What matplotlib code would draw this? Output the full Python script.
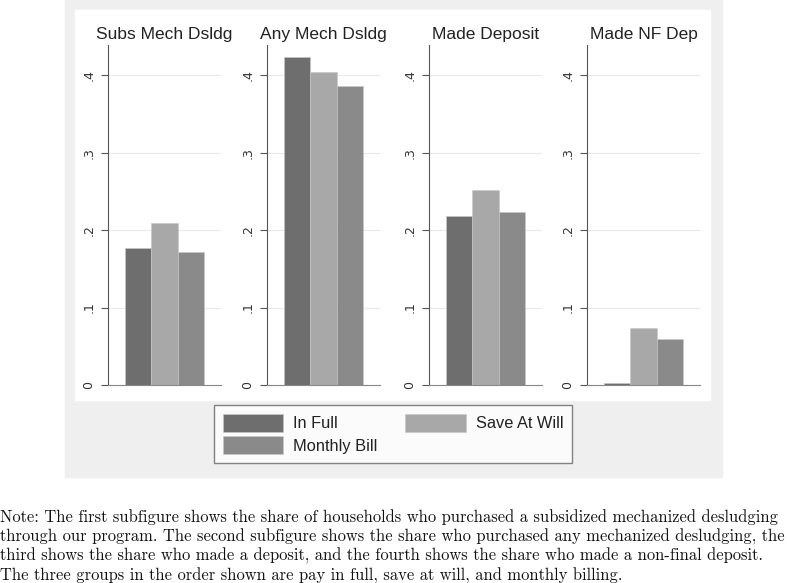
import matplotlib.pyplot as plt
from matplotlib.patches import Rectangle

W, H = 787, 583

panels = ['Subs Mech Dsldg', 'Any Mech Dsldg', 'Made Deposit', 'Made NF Dep']
groups = ['In Full', 'Save At Will', 'Monthly Bill']
in_full = [0.177, 0.423, 0.218, 0.003]
save_at_will = [0.209, 0.404, 0.252, 0.074]
monthly_bill = [0.172, 0.386, 0.223, 0.059]
yticks = [0, 0.1, 0.2, 0.3, 0.4]
ytick_labels = ['0', '.1', '.2', '.3', '.4']

colors = ['#6e6e6e', '#a8a8a8', '#8a8a8a']
note = ("Note: The first subfigure shows the share of households who purchased a subsidized mechanized desludging\n"
        "through our program. The second subfigure shows the share who purchased any mechanized desludging, the\n"
        "third shows the share who made a deposit, and the fourth shows the share who made a non-final deposit.\n"
        "The three groups in the order shown are pay in full, save at will, and monthly billing.")


def fx(px):
    return px / W


def fy(py):
    return 1 - py / H


fig = plt.figure(figsize=(W / 100, H / 100), dpi=100)
fig.patches.append(Rectangle((fx(65), fy(477)), fx(722) - fx(65), fy(0) - fy(477),
                             transform=fig.transFigure, color='#efefef', zorder=-3))
fig.patches.append(Rectangle((fx(75), fy(400)), fx(710) - fx(75), fy(10) - fy(400),
                             transform=fig.transFigure, color='white', zorder=-2))

lefts = [108, 267, 429, 587]
series = [in_full, save_at_will, monthly_bill]
top_px, bot_px = 45, 385
handles = []
for i, name in enumerate(panels):
    ax = fig.add_axes([fx(lefts[i]), fy(bot_px), 113 / W, (bot_px - top_px) / H])
    ax.set_facecolor('none')
    for j, vals in enumerate(series):
        b = ax.bar(j, vals[i], width=1, color=colors[j], edgecolor='#c8c8c8', linewidth=0.4)
        if i == 0:
            handles.append(b)
    ax.set_xlim(-1.16, 3.16)
    ax.set_ylim(0, 0.439)
    ax.set_yticks(yticks)
    ax.set_yticklabels(ytick_labels, rotation=90, va='center', fontsize=9, color='#333333')
    ax.set_xticks([])
    ax.yaxis.grid(True, color='#eaeaea', linewidth=0.8)
    ax.set_axisbelow(True)
    ax.tick_params(axis='y', length=5, width=0.8, color='#555555', pad=4)
    for s in ['top', 'right']:
        ax.spines[s].set_visible(False)
    ax.spines['left'].set_color('#555555')
    ax.spines['bottom'].set_color('#888888')
    ax.set_title(name, fontsize=12.5, family='Liberation Sans', color='#222222', pad=4)

# legend fills column-wise: put Monthly Bill under In Full
order = [0, 2, 1]
leg = fig.legend([handles[k] for k in order], [groups[k] for k in order], ncol=2, loc='center',
                 bbox_to_anchor=(fx(393), fy(434)), frameon=True, fancybox=False,
                 prop={'family': 'Liberation Sans', 'size': 11.8},
                 handlelength=3.7, handleheight=1.3, handletextpad=0.6,
                 columnspacing=1.7, labelspacing=0.3, borderpad=0.5)
leg.get_frame().set_edgecolor('#666666')
leg.get_frame().set_linewidth(1.0)
for t in leg.get_texts():
    t.set_color('#222222')

fig.text(0.0, fy(509), note, family='cmr10', fontsize=11.9, va='top', ha='left',
         linespacing=1.27, color='#111111')

fig.savefig('out.png', dpi=100)
